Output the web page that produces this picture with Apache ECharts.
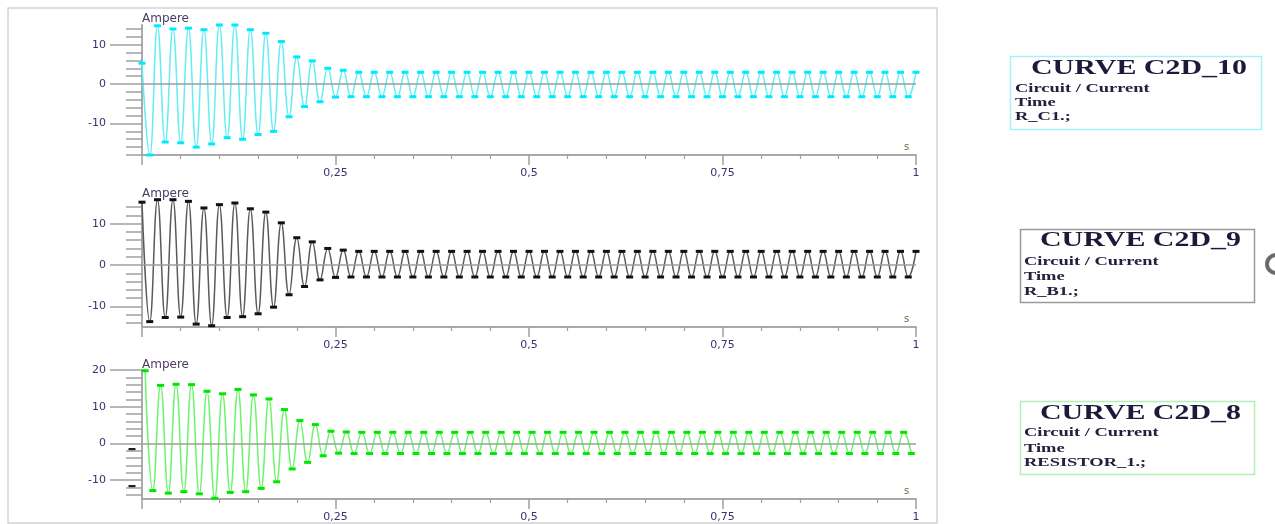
<!DOCTYPE html>
<html>
<head>
<meta charset="utf-8">
<script src="https://cdn.jsdelivr.net/npm/echarts@6/dist/echarts.min.js"></script>
<style>
  html, body { margin: 0; padding: 0; background: #ffffff; }
  #chart { width: 1275px; height: 524px; }
</style>
</head>
<body>
<div id="chart"></div>
<script>
// Three 50 Hz branch currents (A) over 1 s: each entry is one half-cycle extreme.
const period = 0.02;

// R_C1 current (cyan): starting value, then troughs at 0.01 + k*period, peaks at 0.02 + k*period
const rc1Start = 5.3;
const rc1Troughs = [
  -18.0, -14.7, -14.9, -16.0, -15.2, -13.6, -14.0, -12.8, -12.0, -8.3,
  -5.7, -4.5, -3.3, -3.2, -3.2, -3.2, -3.2, -3.2, -3.2, -3.2,
  -3.2, -3.2, -3.2, -3.2, -3.2, -3.2, -3.2, -3.2, -3.2, -3.2,
  -3.2, -3.2, -3.2, -3.2, -3.2, -3.2, -3.2, -3.2, -3.2, -3.2,
  -3.2, -3.2, -3.2, -3.2, -3.2, -3.2, -3.2, -3.2, -3.2, -3.2
];
const rc1Peaks = [
  14.8, 14.0, 14.2, 13.8, 15.0, 15.0, 13.8, 12.9, 10.8, 6.9,
  5.9, 4.0, 3.5, 3.0, 3.0, 3.0, 3.0, 3.0, 3.0, 3.0,
  3.0, 3.0, 3.0, 3.0, 3.0, 3.0, 3.0, 3.0, 3.0, 3.0,
  3.0, 3.0, 3.0, 3.0, 3.0, 3.0, 3.0, 3.0, 3.0, 3.0,
  3.0, 3.0, 3.0, 3.0, 3.0, 3.0, 3.0, 3.0, 3.0, 3.0
];

// R_B1 current (black): peaks at k*period, troughs at 0.01 + k*period
const rb1Peaks = [
  15.2, 15.8, 15.8, 15.4, 13.8, 14.6, 15.0, 13.6, 12.8, 10.2,
  6.6, 5.6, 4.0, 3.6, 3.3, 3.3, 3.3, 3.3, 3.3, 3.3,
  3.3, 3.3, 3.3, 3.3, 3.3, 3.3, 3.3, 3.3, 3.3, 3.3,
  3.3, 3.3, 3.3, 3.3, 3.3, 3.3, 3.3, 3.3, 3.3, 3.3,
  3.3, 3.3, 3.3, 3.3, 3.3, 3.3, 3.3, 3.3, 3.3, 3.3,
  3.3
];
const rb1Troughs = [
  -13.7, -12.7, -12.6, -14.3, -14.7, -12.7, -12.5, -11.8, -10.2, -7.2,
  -5.2, -3.6, -3.0, -2.9, -2.9, -2.9, -2.9, -2.9, -2.9, -2.9,
  -2.9, -2.9, -2.9, -2.9, -2.9, -2.9, -2.9, -2.9, -2.9, -2.9,
  -2.9, -2.9, -2.9, -2.9, -2.9, -2.9, -2.9, -2.9, -2.9, -2.9,
  -2.9, -2.9, -2.9, -2.9, -2.9, -2.9, -2.9, -2.9, -2.9, -2.9
];

// RESISTOR_1 current (green): peaks at 0.004 + k*period, troughs at 0.014 + k*period
const res1Peaks = [
  19.8, 15.8, 16.1, 16.0, 14.2, 13.5, 14.7, 13.2, 12.1, 9.2,
  6.2, 5.1, 3.3, 3.1, 3.0, 3.0, 3.0, 3.0, 3.0, 3.0,
  3.0, 3.0, 3.0, 3.0, 3.0, 3.0, 3.0, 3.0, 3.0, 3.0,
  3.0, 3.0, 3.0, 3.0, 3.0, 3.0, 3.0, 3.0, 3.0, 3.0,
  3.0, 3.0, 3.0, 3.0, 3.0, 3.0, 3.0, 3.0, 3.0, 3.0
];
const res1Troughs = [
  -12.9, -13.6, -13.2, -13.8, -15.0, -13.4, -13.2, -12.3, -10.5, -7.0,
  -5.2, -3.4, -2.7, -2.8, -2.8, -2.8, -2.8, -2.8, -2.8, -2.8,
  -2.8, -2.8, -2.8, -2.8, -2.8, -2.8, -2.8, -2.8, -2.8, -2.8,
  -2.8, -2.8, -2.8, -2.8, -2.8, -2.8, -2.8, -2.8, -2.8, -2.8,
  -2.8, -2.8, -2.8, -2.8, -2.8, -2.8, -2.8, -2.8, -2.8, -2.8
];

// Axis ticks and labels
const timeTicks = [0.25, 0.5, 0.75, 1];
const timeTickLabels = ['0,25', '0,5', '0,75', '1'];
const topMinorTicks = [-18, -16, -14, -12, -10, -8, -6, -4, -2, 0, 2, 4, 6, 8, 10, 12, 14];
const topMajorTicks = [-10, 0, 10];
const midMinorTicks = [-14, -12, -10, -8, -6, -4, -2, 0, 2, 4, 6, 8, 10, 12, 14];
const midMajorTicks = [-10, 0, 10];
const botMinorTicks = [-14, -12, -10, -8, -6, -4, -2, 0, 2, 4, 6, 8, 10, 12, 14, 16, 18];
const botMajorTicks = [-10, 0, 10, 20];

// Legend captions
const curveTitles = ['CURVE C2D_10', 'CURVE C2D_9', 'CURVE C2D_8'];
const curveQuantity = 'Circuit / Current';
const curveAbscissa = 'Time';
const curveBranches = ['R_C1.;', 'R_B1.;', 'RESISTOR_1.;'];

// Merge half-cycle extremes into one time-ordered point list
function halfCycles(start, troughPhase, troughs, peakPhase, peaks) {
  const pts = [];
  if (start !== null) pts.push([0, start]);
  troughs.forEach((v, k) => pts.push([+(troughPhase + k * period).toFixed(4), v]));
  peaks.forEach((v, k) => pts.push([+(peakPhase + k * period).toFixed(4), v]));
  pts.sort((a, b) => a[0] - b[0]);
  return pts;
}

const panels = [
  { data: halfCycles(rc1Start, 0.01, rc1Troughs, 0.02, rc1Peaks), min: -18, max: 15,
    minor: topMinorTicks, major: topMajorTicks, line: '#62eef4', mark: '#00eaff',
    grid: { left: 142, width: 774, top: 25, height: 130 }, nameGap: 6 },
  { data: halfCycles(null, 0.01, rb1Troughs, 0.0, rb1Peaks), min: -15, max: 15,
    minor: midMinorTicks, major: midMajorTicks, line: '#5a5a5a', mark: '#111111',
    grid: { left: 142, width: 774, top: 203, height: 124 }, nameGap: 9 },
  { data: halfCycles(null, 0.014, res1Troughs, 0.004, res1Peaks), min: -15.2, max: 20,
    minor: botMinorTicks, major: botMajorTicks, line: '#6cf46c', mark: '#00e600',
    grid: { left: 142, width: 774, top: 370, height: 129 }, nameGap: 5 }
];

const axisGray = '#a9a9a9';
const tickGray = '#a0a0a0';
const labelColor = '#34346e';
const axisFont = 'DejaVu Sans';

const grid = [], xAxis = [], yAxis = [], series = [];
panels.forEach((p, i) => {
  grid.push(Object.assign({ containLabel: false }, p.grid));
  xAxis.push({
    type: 'value', gridIndex: i, min: 0, max: 1, interval: 0.25,
    axisLine: { show: true, onZero: false, lineStyle: { color: axisGray, width: 2 } },
    axisTick: { show: true, length: 10, lineStyle: { color: tickGray, width: 1.5 } },
    minorTick: { show: true, splitNumber: 5, length: 4, lineStyle: { color: tickGray, width: 1.2 } },
    splitLine: { show: false },
    axisLabel: {
      margin: 13, color: labelColor, fontSize: 11, fontFamily: axisFont,
      formatter: v => { const k = timeTicks.indexOf(v); return k < 0 ? '' : timeTickLabels[k]; }
    },
    name: 's', nameLocation: 'end', nameGap: -12,
    nameTextStyle: { color: '#5d6e34', fontSize: 10, fontFamily: axisFont, verticalAlign: 'bottom', padding: [0, 0, 3, 0] }
  });
  // minor ticks + axis line + unit name
  yAxis.push({
    type: 'value', gridIndex: i, min: p.min, max: p.max, position: 'left',
    axisLine: { show: true, onZero: false, lineStyle: { color: axisGray, width: 2 } },
    axisTick: { show: true, customValues: p.minor, length: 16, lineStyle: { color: tickGray, width: 1.5 } },
    axisLabel: { show: false },
    splitLine: { show: false },
    name: 'Ampere', nameLocation: 'end', nameGap: p.nameGap,
    nameTextStyle: { color: '#4b3b63', fontSize: 12, fontFamily: axisFont, align: 'left', verticalAlign: 'middle' }
  });
  // major ticks with labels
  yAxis.push({
    type: 'value', gridIndex: i, min: p.min, max: p.max, position: 'left', offset: 0,
    axisLine: { show: false },
    axisTick: { show: true, customValues: p.major, length: 32, lineStyle: { color: tickGray, width: 1.5 } },
    axisLabel: { show: true, customValues: p.major, margin: 36, color: labelColor, fontSize: 11, fontFamily: axisFont },
    splitLine: { show: false }
  });
  series.push({
    type: 'line', xAxisIndex: i, yAxisIndex: 2 * i, data: p.data, clip: false,
    smooth: 0.45, symbol: 'rect', symbolSize: [7, 3], showSymbol: true,
    itemStyle: { color: p.mark },
    lineStyle: { color: p.line, width: 1.5 },
    emphasis: { disabled: true },
    markLine: {
      silent: true, symbol: ['none', 'none'], label: { show: false },
      lineStyle: { color: '#9c9c9c', width: 1.5, type: 'solid' },
      data: [{ yAxis: 0 }]
    }
  });
});

// Caption boxes on the right
function captionBox(idx, box, border, titleX, lineX, ys) {
  const serif = 'Liberation Serif';
  const ink = '#22203e';
  return [
    { type: 'rect', silent: true, shape: box, style: { fill: '#ffffff', stroke: border, lineWidth: 1.5 } },
    { type: 'text', silent: true, x: titleX, y: ys[0], scaleX: 1.36,
      style: { text: curveTitles[idx], font: 'bold 22px "' + serif + '"', fill: '#1c1a3a', verticalAlign: 'middle' } },
    { type: 'text', silent: true, x: lineX, y: ys[1], scaleX: 1.42,
      style: { text: curveQuantity, font: 'bold 13px "' + serif + '"', fill: ink, verticalAlign: 'middle' } },
    { type: 'text', silent: true, x: lineX, y: ys[2], scaleX: 1.42,
      style: { text: curveAbscissa, font: 'bold 13px "' + serif + '"', fill: ink, verticalAlign: 'middle' } },
    { type: 'text', silent: true, x: lineX, y: ys[3], scaleX: 1.42,
      style: { text: curveBranches[idx], font: 'bold 13px "' + serif + '"', fill: ink, verticalAlign: 'middle' } }
  ];
}

const graphic = [
  { type: 'rect', silent: true, z: -10, shape: { x: 8, y: 8, width: 929, height: 515 },
    style: { fill: 'none', stroke: '#d4d4d4', lineWidth: 1.5 } },
  { type: 'rect', silent: true, shape: { x: 128.5, y: 448, width: 7, height: 2.5 }, style: { fill: '#222222' } },
  { type: 'rect', silent: true, shape: { x: 128.5, y: 485, width: 7, height: 2.5 }, style: { fill: '#222222' } },
  { type: 'circle', silent: true, shape: { cx: 1276, cy: 264, r: 9 }, style: { fill: 'none', stroke: '#6a6a6a', lineWidth: 4 } }
]
  .concat(captionBox(0, { x: 1010.5, y: 56.5, width: 251, height: 73 }, '#a6f2fa', 1031, 1015, [68, 89, 103, 117]))
  .concat(captionBox(1, { x: 1020.5, y: 229.5, width: 234, height: 73 }, '#9a9a9a', 1040, 1024, [240, 262, 277, 292]))
  .concat(captionBox(2, { x: 1020.5, y: 401.5, width: 234, height: 73 }, '#b2efb2', 1040, 1024, [413, 433, 449, 463]));

const chart = echarts.init(document.getElementById('chart'), null, { renderer: 'canvas' });
chart.setOption({
  animation: false,
  backgroundColor: '#ffffff',
  grid, xAxis, yAxis, series, graphic
});
</script>
</body>
</html>
